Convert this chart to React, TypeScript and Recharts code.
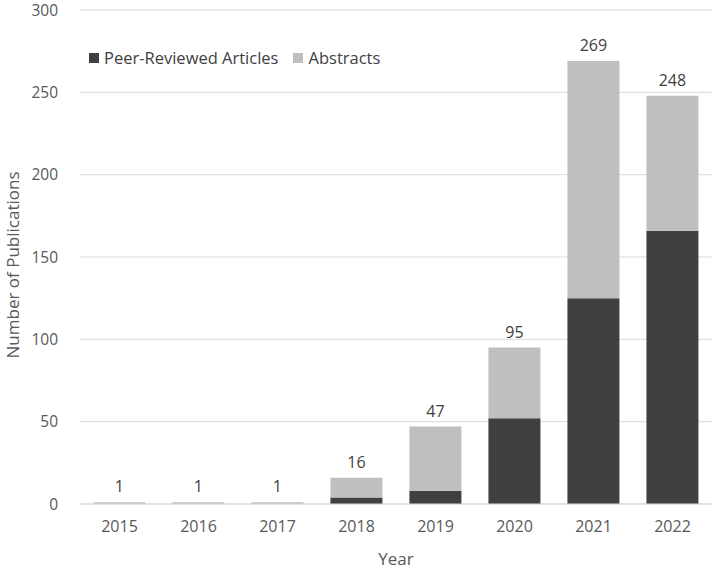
import { BarChart, Bar, XAxis, YAxis, CartesianGrid, LabelList } from 'recharts'

const years = ['2015', '2016', '2017', '2018', '2019', '2020', '2021', '2022']
const articles = [0, 0, 0, 4, 8, 52, 125, 166]
const abstracts = [1, 1, 1, 12, 39, 43, 144, 82]
const yTicks = [0, 50, 100, 150, 200, 250, 300]

const data = years.map((year, i) => ({
  year,
  articles: articles[i],
  abstracts: abstracts[i],
  total: articles[i] + abstracts[i],
}))

const DARK = '#404040'
const LIGHT = '#bfbfbf'
const font = '"Open Sans", sans-serif'

// legend sits inside the plot, drawn as an overlay so it doesn't shrink the plot area
function LegendBox() {
  const item = (color: string, text: string) => (
    <span style={{ display: 'inline-flex', alignItems: 'center', marginRight: 15 }}>
      <span style={{ width: 10, height: 10, background: color, display: 'inline-block', marginRight: 5 }} />
      <span>{text}</span>
    </span>
  )
  return (
    <div style={{ position: 'absolute', top: 46, left: 89, fontFamily: font, fontSize: 16.5, color: '#404040', display: 'flex' }}>
      {item(DARK, 'Peer-Reviewed Articles')}
      {item(LIGHT, 'Abstracts')}
    </div>
  )
}

export default function App() {
  return (
    <div style={{ position: 'absolute', left: 0, top: 0, width: 725, height: 574, background: '#fff' }}>
      <BarChart
        width={725}
        height={574}
        data={data}
        margin={{ top: 10, right: 13, left: 0, bottom: 0 }}
        barCategoryGap="17%"
      >
        <CartesianGrid vertical={false} stroke="#d9d9d9" />
        <XAxis
          dataKey="year"
          height={70}
          tickLine={false}
          axisLine={{ stroke: '#d9d9d9' }}
          tick={{ fontSize: 16, fill: '#595959', fontFamily: font }}
          tickMargin={11}
          label={{ value: 'Year', position: 'insideBottom', offset: 9, fontSize: 17, fill: '#595959', fontFamily: font }}
        />
        <YAxis
          width={80}
          domain={[0, 300]}
          ticks={yTicks}
          tickLine={false}
          axisLine={false}
          tick={{ fontSize: 15.5, fill: '#595959', fontFamily: font }}
          tickMargin={16}
          label={{ value: 'Number of Publications', angle: -90, position: 'insideLeft', dx: 8, dy: 8, fontSize: 17, fill: '#595959', fontFamily: font, style: { textAnchor: 'middle' } }}
        />
        <Bar dataKey="articles" stackId="a" fill={DARK} name="Peer-Reviewed Articles" isAnimationActive={false} />
        <Bar dataKey="abstracts" stackId="a" fill={LIGHT} name="Abstracts" isAnimationActive={false}>
          <LabelList dataKey="total" position="top" offset={10} fontSize={16} fill="#404040" fontFamily={font} />
        </Bar>
      </BarChart>
      <LegendBox />
    </div>
  )
}
